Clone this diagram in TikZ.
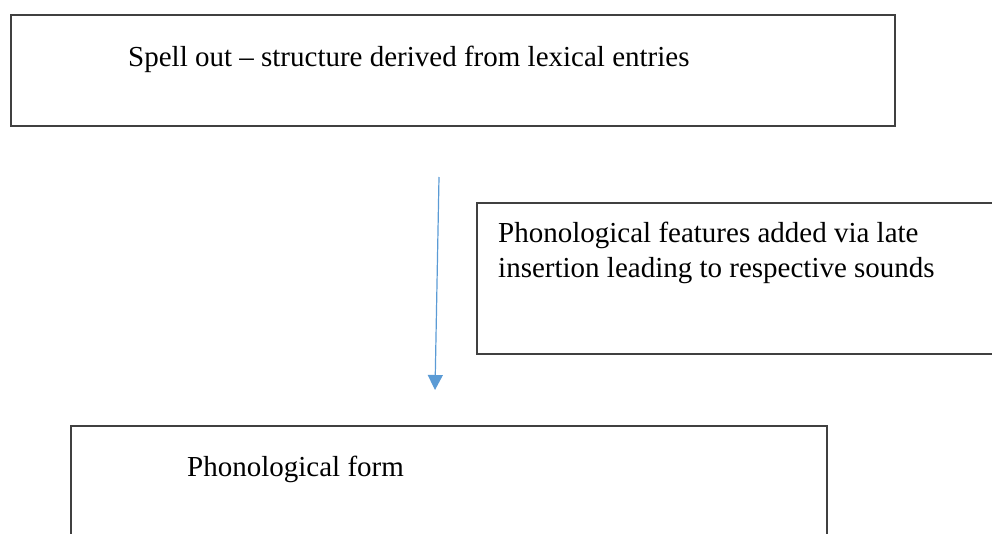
\documentclass[tikz,border=0pt]{standalone}
\usepackage{fontspec}
\setmainfont{Liberation Serif}
\usetikzlibrary{arrows.meta}
\definecolor{boxline}{HTML}{404040}
\definecolor{arrowblue}{HTML}{5B9BD5}
\begin{document}
\begin{tikzpicture}[x=1pt,y=-1pt,
  framebox/.style={draw=boxline,line width=1.5pt,fill=none},
  label/.style={anchor=base west,inner sep=0pt,font=\fontsize{29}{35}\selectfont,align=left},
  flow/.style={draw=arrowblue,line width=1.2pt,-{Triangle[width=15pt,length=15pt]}}]
\useasboundingbox (0,0) rectangle (992,533);
\draw[framebox] (11,15) rectangle (895,126);
\node[label] (t1) at (128,66) {Spell out – structure derived from lexical entries};
\draw[framebox] (477,203) rectangle (1010,354);
\node[label] (t2a) at (498,242) {Phonological features added via late};
\node[label] (t2b) at (498,277) {insertion leading to respective sounds};
\draw[framebox] (71,426) rectangle (827,560);
\node[label] (t3) at (187,476) {Phonological form};
\coordinate (s) at (439,177);
\coordinate (e) at (435,390);
\draw[flow] (s) -- (e);
\end{tikzpicture}
\end{document}
